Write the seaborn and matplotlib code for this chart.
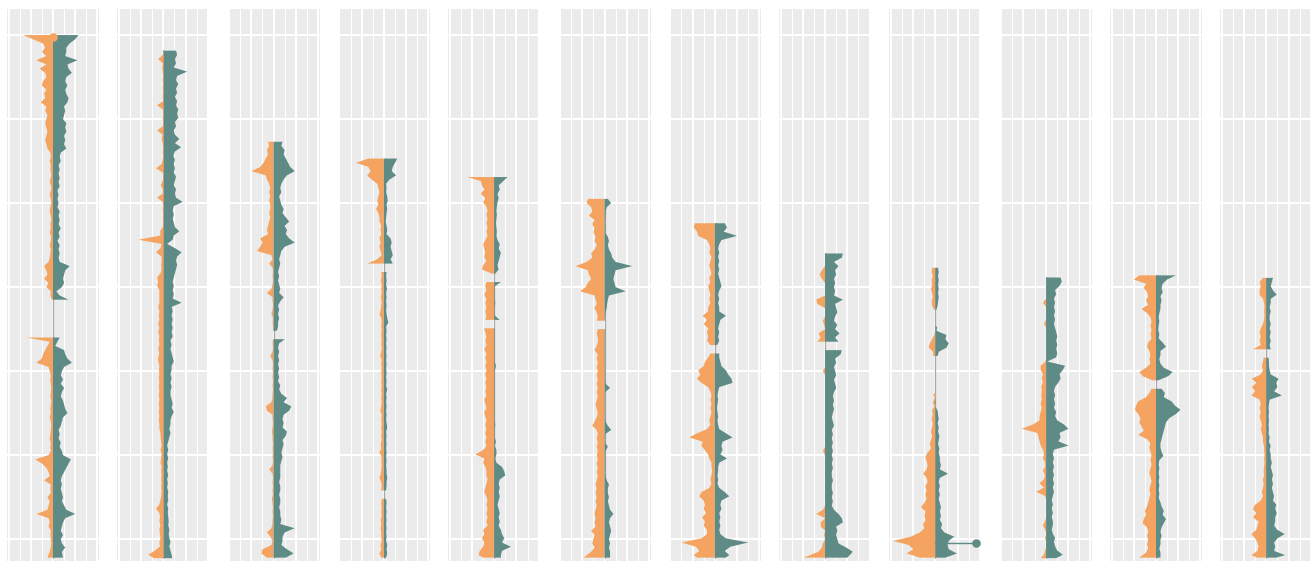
import numpy as np
import matplotlib
matplotlib.use("Agg")
import matplotlib.pyplot as plt
import seaborn as sns
import pandas as pd

NA = float("nan")   # gap in the chromosome (no data)

# ---------------- data: widths per 0.5-unit bin, listed from the top of each chromosome down ----
CHROM_END = 62.2
BIN = 0.5
chrom_start = [0.0, 1.8, 12.7, 14.7, 16.9, 19.5, 22.4, 26.0, 27.7, 28.8, 28.6, 28.9]

orange_1 = [1.35, 0.9, 0.45, 0.35, 0.5, 0.3, 0.75, 0.3, 0.6, 0.35, 0.3, 0.45, 0.5, 0.3, 0.4, 0.35,
            0.55, 0.3, 0.35, 0.25, 0.3, 0.35, 0.3, 0.25, 0.3, 0.35, 0.3, 0.25,
            0.12, 0.1, 0.15, 0.1, 0.12, 0.08, 0.1, 0.15, 0.08, 0.1, 0.15, 0.1, 0.08, 0.12, 0.15, 0.1,
            0.08, 0.12, 0.1, 0.15, 0.08, 0.1, 0.15, 0.1, 0.12, 0.15, 0.2, 0.4, 0.3, 0.25, 0.4, 0.2,
            0.3, 0.1, 0.12, 0.05,
            NA, NA, NA, NA, NA, NA, NA, NA,
            1.2, 0.15, 0.25, 0.35, 0.45, 0.5, 0.75, 0.2, 0.15, 0.1, 0.12, 0.1, 0.08, 0.1, 0.12, 0.08,
            0.1, 0.12, 0.1, 0.15, 0.1, 0.08, 0.1, 0.12, 0.15, 0.1, 0.12, 0.1, 0.2, 0.8, 0.5, 0.3,
            0.2, 0.15, 0.4, 0.1, 0.12, 0.1, 0.25, 0.15, 0.2, 0.25, 0.75, 0.2, 0.15, 0.2, 0.1, 0.12,
            0.1, 0.08, 0.1, 0.15, 0.25]
teal_1 = [1.15, 1.0, 0.75, 0.6, 0.6, 0.55, 1.1, 0.65, 0.7, 0.85, 0.6, 0.55, 0.65, 0.55, 0.6, 0.7,
          0.65, 0.5, 0.55, 0.5, 0.45, 0.6, 0.55, 0.6, 0.5, 0.55, 0.5, 0.6,
          0.35, 0.3, 0.35, 0.25, 0.3, 0.25, 0.3, 0.25, 0.3, 0.2, 0.25, 0.2, 0.25, 0.2, 0.3, 0.25,
          0.3, 0.25, 0.35, 0.25, 0.3, 0.2, 0.3, 0.25, 0.3, 0.25, 0.3, 0.75, 0.55, 0.5, 0.45, 0.5,
          0.4, 0.15, 0.3, 0.7,
          NA, NA, NA, NA, NA, NA, NA, NA,
          0.3, 0.2, 0.1, 0.5, 0.55, 0.65, 0.85, 0.5, 0.4, 0.35, 0.45, 0.35, 0.5, 0.4, 0.35, 0.45,
          0.5, 0.55, 0.65, 0.45, 0.4, 0.35, 0.25, 0.3, 0.25, 0.35, 0.3, 0.4, 0.45, 0.8, 0.7, 0.6,
          0.5, 0.4, 0.35, 0.4, 0.35, 0.4, 0.45, 0.4, 0.5, 0.6, 1.0, 0.55, 0.45, 0.4, 0.35, 0.45,
          0.35, 0.4, 0.55, 0.4, 0.45]

orange_2 = [0.0, 0.05, 0.25, 0.05, 0.07, 0.05, 0.03, 0.05, 0.03, 0.05,
            0.03, 0.05, 0.03, 0.3, 0.05, 0.03, 0.05, 0.03, 0.05, 0.3,
            0.05, 0.1, 0.05, 0.03, 0.05, 0.03, 0.05, 0.1, 0.35, 0.05,
            0.03, 0.05, 0.14, 0.05, 0.05, 0.3, 0.05, 0.03, 0.05, 0.03,
            0.05, 0.03, 0.05, 0.17, 0.15, 1.15, 0.1, 0.15, 0.35, 0.1,
            0.1, 0.12, 0.1, 0.15, 0.3, 0.25, 0.3, 0.2, 0.2, 0.2,
            0.2, 0.25, 0.2, 0.22, 0.2, 0.25, 0.2, 0.25, 0.2, 0.22,
            0.2, 0.25, 0.2, 0.25, 0.25, 0.2, 0.22, 0.2, 0.22, 0.2,
            0.22, 0.2, 0.22, 0.2, 0.22, 0.2, 0.22, 0.2, 0.22, 0.2,
            0.2, 0.15, 0.15, 0.12, 0.1, 0.15, 0.1, 0.12, 0.15, 0.1,
            0.12, 0.1, 0.12, 0.1, 0.12, 0.1, 0.12, 0.15, 0.2, 0.35,
            0.2, 0.17, 0.2, 0.15, 0.2, 0.17, 0.15, 0.2, 0.17, 0.4,
            0.7, 0.45]
teal_2 = [0.55, 0.6, 0.5, 0.55, 0.45, 1.05, 0.6, 0.55, 0.65, 0.55,
          0.6, 0.5, 0.6, 0.55, 0.65, 0.6, 0.65, 0.5, 0.55, 0.45,
          0.5, 0.7, 0.5, 0.78, 0.5, 0.43, 0.5, 0.45, 0.5, 0.45,
          0.55, 0.5, 0.45, 0.55, 0.5, 0.55, 0.85, 0.45, 0.4, 0.45,
          0.4, 0.45, 0.5, 0.7, 0.45, 0.4, 0.15, 0.5, 0.8, 0.6,
          0.55, 0.6, 0.55, 0.5, 0.45, 0.4, 0.45, 0.4, 0.45, 0.4,
          0.8, 0.35, 0.4, 0.35, 0.4, 0.35, 0.4, 0.35, 0.4, 0.3,
          0.35, 0.3, 0.35, 0.4, 0.45, 0.35, 0.35, 0.3, 0.35, 0.3,
          0.35, 0.3, 0.3, 0.35, 0.4, 0.35, 0.45, 0.35, 0.3, 0.3,
          0.25, 0.3, 0.25, 0.2, 0.15, 0.2, 0.15, 0.2, 0.15, 0.18,
          0.15, 0.2, 0.15, 0.18, 0.15, 0.2, 0.18, 0.2, 0.15, 0.2,
          0.18, 0.2, 0.22, 0.2, 0.25, 0.22, 0.25, 0.3, 0.25, 0.3,
          0.35, 0.38]

orange_3 = [0.25, 0.2, 0.3, 0.25, 0.35, 0.45, 0.6, 1.0, 0.35, 0.3,
            0.2, 0.15, 0.2, 0.15, 0.2, 0.15, 0.15, 0.2, 0.15, 0.2,
            0.25, 0.3, 0.25, 0.6, 0.5, 0.6, 0.75, 0.1, 0.05, 0.2,
            0.05, 0.03, 0.05, 0.03, 0.05, 0.1, 0.3, 0.05, 0.05, 0.03,
            0.05, 0.1, 0.03, 0.05, 0.03, 0.03, NA, 0.03, 0.05, 0.03,
            0.05, 0.15, 0.05, 0.03, 0.05, 0.03, 0.05, 0.03, 0.05, 0.03,
            0.05, 0.05, 0.1, 0.35, 0.3, 0.05, 0.05, 0.03, 0.05, 0.08,
            0.05, 0.05, 0.03, 0.05, 0.03, 0.05, 0.03, 0.05, 0.2, 0.05,
            0.03, 0.05, 0.03, 0.05, 0.03, 0.08, 0.05, 0.03, 0.05, 0.03,
            0.05, 0.05, 0.1, 0.3, 0.15, 0.05, 0.1, 0.5, 0.55, 0.3]
teal_3 = [0.4, 0.35, 0.5, 0.45, 0.55, 0.65, 0.75, 0.95, 0.6, 0.45,
          0.35, 0.3, 0.35, 0.25, 0.3, 0.35, 0.45, 0.4, 0.55, 0.7,
          0.5, 0.6, 0.55, 0.7, 0.95, 0.5, 0.35, 0.3, 0.25, 0.3,
          0.25, 0.2, 0.25, 0.2, 0.25, 0.3, 0.25, 0.45, 0.3, 0.2,
          0.25, 0.2, 0.25, 0.2, 0.2, 0.15, NA, 0.5, 0.25, 0.2,
          0.25, 0.2, 0.25, 0.2, 0.25, 0.2, 0.25, 0.2, 0.3, 0.25,
          0.35, 0.6, 0.45, 0.8, 0.7, 0.45, 0.4, 0.45, 0.4, 0.6,
          0.55, 0.4, 0.45, 0.4, 0.35, 0.4, 0.35, 0.3, 0.3, 0.3,
          0.3, 0.25, 0.3, 0.3, 0.25, 0.3, 0.3, 0.25, 0.3, 0.3,
          0.35, 0.3, 0.95, 0.5, 0.4, 0.4, 0.35, 0.6, 0.9, 0.55]

orange_4 = [0.7, 1.25, 0.7, 0.6, 0.75, 0.55, 0.3, 0.25, 0.2, 0.25,
            0.3, 0.25, 0.35, 0.25, 0.2, 0.2, 0.12, 0.15, 0.12, 0.2,
            0.15, 0.2, 0.15, 0.1, 0.3, 0.75, NA, 0.12, 0.1, 0.14,
            0.1, 0.12, 0.1, 0.14, 0.1, 0.12, 0.14, 0.2, 0.12, 0.1,
            0.12, 0.1, 0.12, 0.1, 0.12, 0.1, 0.12, 0.16, 0.1, 0.12,
            0.1, 0.12, 0.1, 0.12, 0.1, 0.12, 0.1, 0.12, 0.1, 0.12,
            0.16, 0.1, 0.12, 0.1, 0.12, 0.1, 0.12, 0.1, 0.14, 0.12,
            0.2, 0.1, 0.12, 0.1, 0.12, 0.14, 0.2, 0.12, 0.1, 0.12,
            NA, 0.1, 0.12, 0.1, 0.12, 0.1, 0.14, 0.12, 0.15, 0.12,
            0.12, 0.1, 0.15, 0.12, 0.2, 0.12]
teal_4 = [0.6, 0.5, 0.4, 0.35, 0.55, 0.25, 0.1, 0.12, 0.1, 0.15,
          0.17, 0.12, 0.15, 0.12, 0.1, 0.08, 0.12, 0.15, 0.12, 0.3,
          0.35, 0.3, 0.35, 0.4, 0.3, 0.4, NA, 0.12, 0.1, 0.12,
          0.1, 0.14, 0.1, 0.12, 0.1, 0.12, 0.1, 0.12, 0.15, 0.2,
          0.1, 0.12, 0.1, 0.12, 0.1, 0.12, 0.1, 0.12, 0.1, 0.12,
          0.1, 0.12, 0.1, 0.12, 0.1, 0.15, 0.1, 0.12, 0.1, 0.12,
          0.1, 0.12, 0.1, 0.12, 0.15, 0.1, 0.12, 0.1, 0.12, 0.1,
          0.12, 0.1, 0.12, 0.1, 0.12, 0.12, 0.15, 0.12, 0.12, 0.1,
          NA, 0.1, 0.12, 0.1, 0.12, 0.1, 0.12, 0.1, 0.12, 0.1,
          0.12, 0.1, 0.15, 0.12, 0.15, 0.1]

orange_5 = [1.2, 0.6, 0.55, 0.45, 0.6, 0.4, 0.5, 0.35, 0.3, 0.35,
            0.3, 0.35, 0.3, 0.35, 0.3, 0.4, 0.5, 0.45, 0.4, 0.45,
            0.35, 0.5, 0.55, 0.1, NA, 0.35, 0.4, 0.35, 0.45, 0.35,
            0.4, 0.35, 0.4, 0.35, 0.4, NA, 0.45, 0.4, 0.35, 0.4,
            0.35, 0.45, 0.35, 0.4, 0.35, 0.4, 0.35, 0.4, 0.35, 0.4,
            0.35, 0.4, 0.35, 0.45, 0.4, 0.35, 0.45, 0.4, 0.35, 0.4,
            0.35, 0.4, 0.35, 0.4, 0.35, 0.5, 0.85, 0.45, 0.5, 0.4,
            0.35, 0.35, 0.3, 0.35, 0.4, 0.45, 0.35, 0.3, 0.35, 0.3,
            0.35, 0.3, 0.35, 0.3, 0.5, 0.45, 0.55, 0.45, 0.5, 0.65,
            0.7, 0.5]
teal_5 = [0.6, 0.4, 0.2, 0.25, 0.15, 0.2, 0.15, 0.12, 0.1, 0.12,
          0.1, 0.08, 0.1, 0.12, 0.1, 0.15, 0.25, 0.2, 0.3, 0.25,
          0.2, 0.15, 0.2, 0.05, NA, 0.3, 0.03, 0.03, 0.03, 0.03,
          0.05, 0.03, 0.03, 0.03, 0.25, NA, 0.03, 0.03, 0.03, 0.03,
          0.03, 0.03, 0.03, 0.03, 0.03, 0.08, 0.03, 0.03, 0.03, 0.03,
          0.03, 0.03, 0.03, 0.03, 0.03, 0.03, 0.03, 0.03, 0.03, 0.05,
          0.03, 0.03, 0.03, 0.08, 0.03, 0.1, 0.1, 0.05, 0.1, 0.35,
          0.45, 0.5, 0.25, 0.2, 0.25, 0.2, 0.25, 0.2, 0.15, 0.2,
          0.25, 0.2, 0.25, 0.2, 0.3, 0.35, 0.45, 0.35, 0.75, 0.35,
          0.3, 0.3]

orange_6 = [0.75, 0.8, 0.6, 0.55, 0.7, 0.45, 0.55, 0.45, 0.5, 0.4,
            0.45, 0.35, 0.45, 0.6, 0.55, 0.8, 1.3, 0.75, 0.7, 0.6,
            0.75, 0.85, 1.1, 0.45, 0.4, 0.35, 0.45, 0.35, 0.3, 0.35,
            NA, 0.3, 0.35, 0.3, 0.3, 0.35, 0.45, 0.3, 0.35, 0.3,
            0.35, 0.3, 0.35, 0.3, 0.35, 0.3, 0.35, 0.3, 0.35, 0.4,
            0.35, 0.3, 0.35, 0.45, 0.55, 0.35, 0.3, 0.35, 0.3, 0.35,
            0.3, 0.35, 0.3, 0.35, 0.3, 0.35, 0.3, 0.35, 0.4, 0.35,
            0.4, 0.35, 0.4, 0.35, 0.4, 0.45, 0.4, 0.45, 0.4, 0.6,
            0.45, 0.5, 0.55, 0.45, 0.6, 0.95]
teal_6 = [0.15, 0.3, 0.1, 0.05, 0.05, 0.03, 0.03, 0.05, 0.03, 0.15,
          0.2, 0.15, 0.2, 0.3, 0.35, 0.5, 1.25, 0.5, 0.45, 0.4,
          0.45, 0.5, 0.95, 0.2, 0.15, 0.12, 0.1, 0.05, 0.03, 0.03,
          NA, 0.03, 0.03, 0.03, 0.03, 0.03, 0.03, 0.03, 0.03, 0.03,
          0.03, 0.03, 0.03, 0.03, 0.05, 0.25, 0.03, 0.03, 0.03, 0.03,
          0.03, 0.03, 0.03, 0.05, 0.15, 0.3, 0.03, 0.03, 0.03, 0.15,
          0.05, 0.03, 0.05, 0.03, 0.05, 0.03, 0.05, 0.1, 0.2, 0.15,
          0.15, 0.2, 0.15, 0.2, 0.25, 0.4, 0.25, 0.2, 0.25, 0.3,
          0.25, 0.2, 0.25, 0.2, 0.25, 0.25]

orange_7 = [0.9, 0.95, 0.8, 0.75, 0.35, 0.25, 0.2, 0.25, 0.15, 0.2,
            0.25, 0.2, 0.15, 0.25, 0.2, 0.3, 0.25, 0.2, 0.25, 0.2,
            0.3, 0.3, 0.55, 0.35, 0.5, 0.3, 0.35, 0.3, 0.35, 0.2,
            NA, 0.2, 0.3, 0.45, 0.5, 0.75, 0.65, 0.8, 0.6, 0.3,
            0.2, 0.15, 0.2, 0.15, 0.2, 0.15, 0.2, 0.25, 0.2, 0.35,
            0.8, 1.15, 0.55, 0.6, 0.45, 0.3, 0.25, 0.15, 0.15, 0.12,
            0.15, 0.2, 0.15, 0.25, 0.6, 0.7, 0.5, 0.45, 0.5, 0.4,
            0.57, 0.45, 0.5, 0.35, 0.35, 0.6, 1.5, 0.85, 0.7, 0.95,
            0.8]
teal_7 = [0.45, 0.55, 0.4, 1.0, 0.3, 0.2, 0.15, 0.2, 0.15, 0.2,
          0.15, 0.2, 0.15, 0.2, 0.25, 0.3, 0.2, 0.15, 0.2, 0.15,
          0.2, 0.2, 0.5, 0.25, 0.2, 0.15, 0.2, 0.15, 0.2, 0.1,
          NA, 0.2, 0.2, 0.25, 0.3, 0.5, 0.6, 0.75, 0.8, 0.2,
          0.15, 0.12, 0.15, 0.12, 0.1, 0.12, 0.15, 0.12, 0.15, 0.2,
          0.5, 0.8, 0.35, 0.3, 0.35, 0.25, 0.55, 0.2, 0.15, 0.15,
          0.12, 0.15, 0.12, 0.2, 0.45, 0.65, 0.3, 0.25, 0.3, 0.2,
          0.25, 0.2, 0.25, 0.2, 0.25, 0.5, 1.5, 0.7, 0.45, 0.65,
          0.5]

orange_8 = [0.0, 0.0, 0.0, 0.0, 0.15, 0.25, 0.15, 0.0, 0.0, 0.0,
            0.0, 0.4, 0.35, 0.0, 0.0, 0.0, 0.1, 0.05, 0.0, 0.3,
            0.2, 0.35, NA, 0.0, 0.0, 0.0, 0.0, 0.0, 0.1, 0.0,
            0.0, 0.0, 0.0, 0.0, 0.0, 0.0, 0.0, 0.0, 0.0, 0.0,
            0.0, 0.0, 0.0, 0.0, 0.0, 0.0, 0.0, 0.1, 0.0, 0.0,
            0.0, 0.0, 0.0, 0.0, 0.0, 0.0, 0.0, 0.0, 0.0, 0.0,
            0.0, 0.1, 0.4, 0.0, 0.2, 0.2, 0.0, 0.05, 0.0, 0.1,
            0.15, 0.3, 0.97]
teal_8 = [0.8, 0.75, 0.4, 0.6, 0.45, 0.5, 0.4, 0.45, 0.4, 0.45,
          0.4, 0.8, 0.45, 0.5, 0.55, 0.45, 0.4, 0.55, 0.45, 0.65,
          0.45, 0.6, NA, 0.75, 0.7, 0.45, 0.5, 0.4, 0.45, 0.5,
          0.4, 0.45, 0.5, 0.4, 0.35, 0.4, 0.35, 0.4, 0.35, 0.3,
          0.35, 0.4, 0.3, 0.35, 0.3, 0.35, 0.3, 0.35, 0.3, 0.35,
          0.3, 0.35, 0.3, 0.3, 0.35, 0.3, 0.3, 0.35, 0.3, 0.35,
          0.3, 0.4, 0.6, 0.75, 0.8, 0.5, 0.55, 0.5, 0.55, 0.6,
          0.95, 1.25, 1.0]

orange_9 = [0.15, 0.17, 0.12, 0.17, 0.15, 0.2, 0.15, 0.12, 0.17, 0.15,
            0.05, NA, NA, NA, 0.0, 0.0, 0.05, 0.15, 0.25, 0.3,
            0.1, 0.1, NA, NA, NA, NA, NA, NA, NA, NA,
            0.1, 0.03, 0.12, 0.05, 0.15, 0.12, 0.17, 0.12, 0.15, 0.2,
            0.15, 0.2, 0.25, 0.2, 0.35, 0.45, 0.4, 0.35, 0.4, 0.55,
            0.4, 0.35, 0.45, 0.4, 0.45, 0.4, 0.5, 0.65, 0.45, 0.5,
            0.45, 0.55, 0.5, 0.7, 1.1, 1.9, 1.2, 1.0, 1.3, 0.7]
teal_9 = [0.12, 0.15, 0.12, 0.15, 0.12, 0.15, 0.12, 0.15, 0.12, 0.1,
          0.05, NA, NA, NA, 0.08, 0.05, 0.5, 0.45, 0.6, 0.5,
          0.15, 0.1, NA, NA, NA, NA, NA, NA, NA, NA,
          0.0, 0.0, 0.03, 0.0, 0.1, 0.12, 0.15, 0.1, 0.15, 0.12,
          0.18, 0.15, 0.12, 0.18, 0.15, 0.2, 0.2, 0.25, 0.2, 0.57,
          0.2, 0.15, 0.2, 0.15, 0.2, 0.15, 0.2, 0.25, 0.2, 0.25,
          0.2, 0.3, 0.25, 0.4, 0.85, 0.6, 0.55, 0.6, 0.97, 0.45]

orange_10 = [0.0, 0.0, 0.0, 0.0, 0.0, 0.0, 0.15, 0.0, 0.0, 0.0,
             0.0, 0.1, 0.0, 0.0, 0.0, 0.0, 0.0, 0.0, 0.0, 0.0,
             0.03, 0.25, 0.25, 0.15, 0.2, 0.15, 0.22, 0.2, 0.22, 0.2,
             0.25, 0.2, 0.25, 0.3, 0.3, 0.6, 1.1, 0.4, 0.35, 0.3,
             0.25, 0.15, 0.1, 0.15, 0.05, 0.05, 0.15, 0.05, 0.1, 0.3,
             0.1, 0.45, 0.05, 0.0, 0.0, 0.0, 0.0, 0.0, 0.05, 0.15,
             0.05, 0.0, 0.05, 0.0, 0.0, 0.05, 0.1, 0.25]
teal_10 = [0.65, 0.7, 0.6, 0.4, 0.45, 0.35, 0.4, 0.35, 0.4, 0.35,
           0.4, 0.35, 0.4, 0.45, 0.5, 0.45, 0.5, 0.45, 0.5, 0.45,
           0.05, 0.85, 0.75, 0.6, 0.65, 0.55, 0.4, 0.35, 0.4, 0.35,
           0.4, 0.35, 0.45, 0.4, 0.5, 0.8, 1.0, 0.6, 0.65, 0.55,
           1.0, 0.35, 0.3, 0.35, 0.3, 0.35, 0.3, 0.35, 0.3, 0.35,
           0.3, 0.35, 0.3, 0.25, 0.3, 0.25, 0.3, 0.25, 0.3, 0.3,
           0.25, 0.3, 0.4, 0.35, 0.4, 0.5, 0.75, 0.45]

orange_11 = [0.75, 1.0, 0.45, 0.55, 0.4, 0.35, 0.45, 0.35, 0.65, 0.4,
             0.25, 0.2, 0.25, 0.2, 0.25, 0.2, 0.35, 0.4, 0.3, 0.25,
             0.3, 0.25, 0.45, 0.75, 0.6, 0.15, NA, 0.2, 0.3, 0.45,
             0.8, 0.9, 0.95, 0.8, 0.7, 0.75, 0.65, 0.55, 0.8, 0.4,
             0.25, 0.3, 0.25, 0.2, 0.25, 0.2, 0.25, 0.3, 0.25, 0.2,
             0.25, 0.3, 0.25, 0.3, 0.35, 0.4, 0.5, 0.45, 0.55, 0.6,
             0.4, 0.35, 0.4, 0.35, 0.4, 0.35, 0.45, 0.75]
teal_11 = [0.9, 0.5, 0.3, 0.25, 0.3, 0.2, 0.25, 0.2, 0.2, 0.15,
           0.12, 0.15, 0.12, 0.1, 0.15, 0.12, 0.3, 0.45, 0.2, 0.2,
           0.15, 0.2, 0.35, 0.75, 0.55, 0.1, NA, 0.25, 0.4, 0.35,
           0.7, 0.85, 1.1, 0.9, 0.6, 0.45, 0.4, 0.35, 0.3, 0.25,
           0.2, 0.2, 0.25, 0.33, 0.15, 0.12, 0.15, 0.12, 0.15, 0.12,
           0.15, 0.12, 0.15, 0.12, 0.2, 0.25, 0.35, 0.3, 0.45, 0.35,
           0.25, 0.2, 0.25, 0.2, 0.2, 0.15, 0.2, 0.2]

orange_12 = [0.15, 0.3, 0.25, 0.3, 0.3, 0.15, 0.1, 0.08, 0.1, 0.08,
             0.1, 0.15, 0.25, 0.3, 0.25, 0.3, 0.25, 0.6, NA, 0.12,
             0.15, 0.2, 0.15, 0.25, 0.65, 0.45, 0.65, 0.5, 0.67, 0.3,
             0.25, 0.3, 0.25, 0.3, 0.25, 0.2, 0.25, 0.2, 0.15, 0.15,
             0.1, 0.1, 0.08, 0.1, 0.08, 0.1, 0.12, 0.1, 0.15, 0.12,
             0.15, 0.2, 0.15, 0.25, 0.5, 0.6, 0.45, 0.6, 0.35, 0.4,
             0.45, 0.67, 0.5, 0.4, 0.35, 0.4, 0.67, 0.4]
teal_12 = [0.3, 0.25, 0.2, 0.3, 0.47, 0.2, 0.2, 0.15, 0.2, 0.15,
           0.15, 0.2, 0.15, 0.2, 0.15, 0.2, 0.15, 0.2, NA, 0.1,
           0.12, 0.12, 0.15, 0.2, 0.55, 0.45, 0.5, 0.35, 0.7, 0.15,
           0.12, 0.1, 0.12, 0.1, 0.12, 0.1, 0.12, 0.1, 0.15, 0.12,
           0.2, 0.15, 0.2, 0.2, 0.25, 0.2, 0.25, 0.3, 0.25, 0.3,
           0.25, 0.3, 0.35, 0.3, 0.45, 0.4, 0.47, 0.4, 0.4, 0.35,
           0.5, 0.83, 0.5, 0.35, 0.4, 0.35, 0.85, 0.45]

orange_series = [orange_1, orange_2, orange_3, orange_4, orange_5, orange_6,
                 orange_7, orange_8, orange_9, orange_10, orange_11, orange_12]
teal_series = [teal_1, teal_2, teal_3, teal_4, teal_5, teal_6,
               teal_7, teal_8, teal_9, teal_10, teal_11, teal_12]

# outlier markers: panel index, position, value, group
marker_panel = [0, 8]
marker_pos = [0.2, 60.4]
marker_value = [0.0, 1.83]
marker_group = ["orange", "teal"]

# ---------------- style ----------------
ORANGE = "#F4A460"
TEAL = "#5F8B86"
BG = "#EBEBEB"

sns.set_theme(style="darkgrid", rc={"axes.facecolor": BG, "figure.facecolor": "white"})
plt.rcParams["font.family"] = ["DejaVu Sans"]

W, H = 1310, 561
fig = plt.figure(figsize=(W / 100, H / 100), dpi=100)

panel_w = 92.0
top_px, bot_px = 9.0, 561.0
centers = [53 + 110.3 * j for j in range(12)]

markers = pd.DataFrame({"panel": marker_panel, "pos": marker_pos,
                        "value": marker_value, "group": marker_group})

for j in range(12):
    left = centers[j] - panel_w / 2
    ax = fig.add_axes([left / W, (H - bot_px) / H, panel_w / W, (bot_px - top_px) / H])
    ax.set_facecolor(BG)

    o = np.asarray(orange_series[j], dtype=float)
    t = np.asarray(teal_series[j], dtype=float)
    n = min(len(o), len(t))
    o, t = o[:n], t[:n]
    pos = np.minimum(chrom_start[j] + BIN * np.arange(n), CHROM_END)
    pos[-1] = CHROM_END

    # chromosome backbone
    ax.plot([0, 0], [chrom_start[j], CHROM_END], color="#A8A8A8", lw=0.9, zorder=2)

    ax.fill_betweenx(pos, -o, 0, color=ORANGE, lw=0, zorder=3)
    ax.fill_betweenx(pos, 0, t, color=TEAL, lw=0, zorder=3)

    mk = markers[markers["panel"] == j]
    for _, r in mk.iterrows():
        col = ORANGE if r["group"] == "orange" else TEAL
        if r["value"] != 0:
            ax.plot([0, r["value"]], [r["pos"], r["pos"]], color=col, lw=1.0, zorder=4)
    if len(mk):
        sns.scatterplot(data=mk, x="value", y="pos", hue="group",
                        palette={"orange": ORANGE, "teal": TEAL},
                        s=38, linewidth=0, legend=False, ax=ax, zorder=5)

    ax.set_xlim(-2.07, 2.07)
    ax.set_ylim(62.6, -3.1)
    ax.set_xticks([-2, -1, 0, 1, 2])
    ax.set_xticks([-1.5, -0.5, 0.5, 1.5], minor=True)
    ax.set_yticks([0, 10, 20, 30, 40, 50, 60])
    ax.set_yticks([], minor=True)
    ax.grid(which="major", color="white", lw=1.5)
    ax.grid(which="minor", axis="x", color="white", lw=0.75)
    ax.tick_params(which="both", length=0, labelbottom=False, labelleft=False)
    ax.set_xlabel("")
    ax.set_ylabel("")
    for s in ax.spines.values():
        s.set_visible(False)

fig.savefig("out.png", dpi=100)
